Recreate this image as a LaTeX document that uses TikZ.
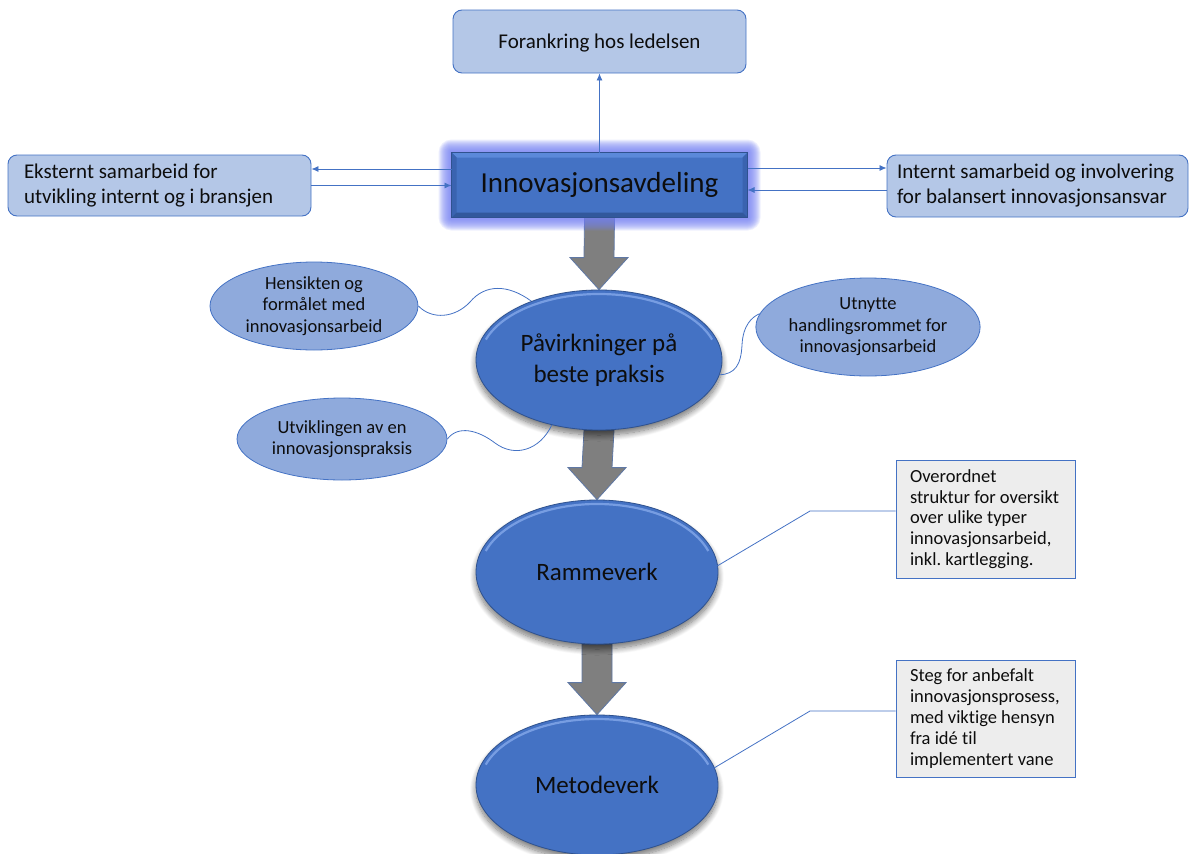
\documentclass[tikz,border=0pt]{standalone}
\usepackage{fontspec}
\setmainfont{Carlito}[Ligatures={NoCommon}]
\usetikzlibrary{shapes.geometric,arrows.meta,calc,shadows.blur,backgrounds}

\definecolor{accent}{HTML}{4472C4}
\definecolor{accentdark}{HTML}{2F528F}
\definecolor{boxfill}{HTML}{B4C7E7}
\definecolor{bubblefill}{HTML}{8FAADC}
\definecolor{notefill}{HTML}{EDEDED}
\definecolor{arrowgray}{HTML}{7F7F7F}
\definecolor{glowc}{HTML}{7480F2}
\definecolor{rimlight}{HTML}{8DB0F0}
\definecolor{inktext}{HTML}{0D0D0D}
\definecolor{bevtop}{HTML}{5B89DA}
\definecolor{bevside}{HTML}{3A63B0}
\definecolor{bevbottom}{HTML}{32589C}

% grey block arrow from the bottom of one node to the top of the next
\newcommand\blockarrow[2]{%
  \draw[blockarr] ($(#1.south)+(-15,0)$) -- ($(#2.north)+(-15,-32)$)
    -- ($(#2.north)+(-29,-32)$) -- (#2.north) -- ($(#2.north)+(29,-32)$)
    -- ($(#2.north)+(15,-32)$) -- ($(#1.south)+(15,0)$) -- cycle;}

% light rim along the upper edge of a stage ellipse
\newcommand\stagerim[3]{%
  \draw[rimlight, line width=2.2pt, opacity=0.7]
    ($(#1.center)+(-18:#2 and #3)$) arc[start angle=-18, end angle=-162, x radius=#2, y radius=#3];}

\begin{document}
\frenchspacing
\begin{tikzpicture}[
  x=1pt, y=-1pt,
  every node/.style={text=inktext},
  topbox/.style={draw=accent, fill=boxfill, rounded corners=9pt, line width=0.9pt, inner sep=0pt},
  sidebox/.style={topbox, align=flush left, inner ysep=0pt,
    font=\fontsize{21}{25}\selectfont},
  hub/.style={draw=accentdark, fill=accent, line width=1pt, minimum width=295pt, minimum height=64pt,
    inner sep=0pt, font=\fontsize{29}{34}\selectfont},
  stage/.style={ellipse, draw=accentdark, fill=accent, line width=0.8pt, inner sep=0pt, align=center,
    font=\fontsize{25}{30.5}\selectfont,
    blur shadow={shadow xshift=0pt, shadow yshift=-5pt, shadow blur steps=12, shadow blur radius=6pt, shadow opacity=55}},
  bubble/.style={ellipse, draw=accent, fill=bubblefill, line width=0.8pt, inner sep=0pt, align=center,
    font=\fontsize{18.5}{21.5}\selectfont},
  note/.style={draw=accent, fill=notefill, line width=0.9pt, inner xsep=14pt, inner ysep=0pt,
    minimum width=179pt, minimum height=118pt, text width=151pt, align=flush left,
    font=\fontsize{18.5}{20.8}\selectfont},
  link/.style={draw=accent, line width=0.8pt},
  tip/.style={-{Latex[length=7pt,width=6pt]}},
  blockarr/.style={fill=arrowgray, draw=accent!55!gray, line width=0.8pt, line join=miter},
  halo/.style={fill=glowc, fill opacity=0.13},
]
\useasboundingbox (0,0) rectangle (1189,854);

% ---- top row ----
\node[topbox, minimum width=293pt, minimum height=63pt, text depth=0pt, font=\fontsize{21}{25}\selectfont]
  (anchor) at (599.5,41.5) {Forankring hos ledelsen};
\node[hub] (innov) at (599.5,185) {};
\node[sidebox, minimum width=303pt, minimum height=61pt, inner xsep=14pt, text width=271pt] (ext) at (159.5,185.5)
  {Eksternt samarbeid for\\utvikling internt og i bransjen};
\node[sidebox, minimum width=301pt, minimum height=62pt, inner xsep=10pt, text width=281pt] (int) at (1037.5,186)
  {Internt samarbeid og involvering\\for balansert innovasjonsansvar};

% soft halo round the department box
\foreach \g in {13,12,...,1}
  \path[halo, rounded corners=\g pt]
    ($(innov.south west)+(-\g,\g)$) rectangle ($(innov.north east)+(\g,-\g)$);

% department box with bevelled edges
\fill[accent] (innov.north west) rectangle (innov.south east);
\fill[bevtop] (innov.north west) -- (innov.north east) -- ($(innov.north east)+(-5,5)$) -- ($(innov.north west)+(5,5)$) -- cycle;
\fill[bevside] (innov.north west) -- (innov.south west) -- ($(innov.south west)+(5,-5)$) -- ($(innov.north west)+(5,5)$) -- cycle;
\fill[bevside] (innov.north east) -- (innov.south east) -- ($(innov.south east)+(-5,-5)$) -- ($(innov.north east)+(-5,5)$) -- cycle;
\fill[bevbottom] (innov.south west) -- (innov.south east) -- ($(innov.south east)+(-5,-5)$) -- ($(innov.south west)+(5,-5)$) -- cycle;
\draw[accentdark, line width=1pt] (innov.north west) rectangle (innov.south east);
\node[font=\fontsize{29}{34}\selectfont] (innovlabel) at (innov.center) {Innovasjonsavdeling};

% ---- thin connectors of the top row ----
\draw[link, tip] (innov.north) -- (anchor.south);
\draw[link, tip] ($(innov.west)+(0,-16)$) coordinate (l1) -- (l1 -| ext.east);
\draw[link, tip] (ext.east) -- (innov.west |- ext.east);
\draw[link, tip] ($(innov.east)+(0,-17)$) coordinate (r1) -- (r1 -| int.west);
\draw[link, tip] ($(int.west)+(0,4)$) coordinate (r2) -- (r2 -| innov.east);

% ---- stages ----
\node[stage, minimum width=246pt, minimum height=140pt] (impact) at (599,360) {Påvirkninger på\\beste praksis};
\node[stage, minimum width=242pt, minimum height=144pt] (frame) at (597,572) {Rammeverk};
\node[stage, minimum width=242pt, minimum height=140pt] (method) at (597,785) {Metodeverk};
\stagerim{impact}{119}{66}
\stagerim{frame}{117}{68}
\stagerim{method}{117}{66}

\begin{scope}[on background layer]
  \blockarrow{innov}{impact}
  \blockarrow{impact}{frame}
  \blockarrow{frame}{method}
\end{scope}

% ---- influences around the first stage ----
\node[bubble, minimum width=208pt, minimum height=88pt] (purpose) at (314,306)
  {Hensikten og\\formålet med\\innovasjonsarbeid};
\node[bubble, minimum width=200pt, minimum height=98pt] (scope) at (868,327)
  {Utnytte\\handlingsrommet for\\innovasjonsarbeid};
\node[bubble, minimum width=210pt, minimum height=82pt] (practice) at (342,439)
  {Utviklingen av en\\innovasjonspraksis};

\draw[link] (purpose.east) .. controls (432,320) and (455,318) .. (470,302)
  .. controls (485,284) and (508,284) .. (impact.139);
\draw[link] (impact.-7) .. controls (735,374) and (741,365) .. (742,345)
  .. controls (743,325) and (752,317) .. (scope.173);
\draw[link] (practice.east) .. controls (458,425) and (478,430) .. (495,443)
  .. controls (515,458) and (540,450) .. (impact.234);

% ---- notes on the later stages ----
\node[note] (framenote) at (985.5,519)
  {Overordnet\\struktur for oversikt\\over ulike typer\\innovasjonsarbeid,\\inkl. kartlegging.};
\node[note, minimum height=117pt] (methodnote) at (985.5,718.5)
  {Steg for anbefalt\\innovasjonsprosess,\\med viktige hensyn\\fra idé til\\implementert vane};

\coordinate (framebend) at (810,511);
\coordinate (methodbend) at (810,711);
\draw[link] ($(frame.center)+(110,0)$) -- (framebend) -- (framebend -| framenote.west);
\draw[link] ($(method.center)+(112,-14)$) -- (methodbend) -- (methodbend -| methodnote.west);
\end{tikzpicture}
\end{document}
